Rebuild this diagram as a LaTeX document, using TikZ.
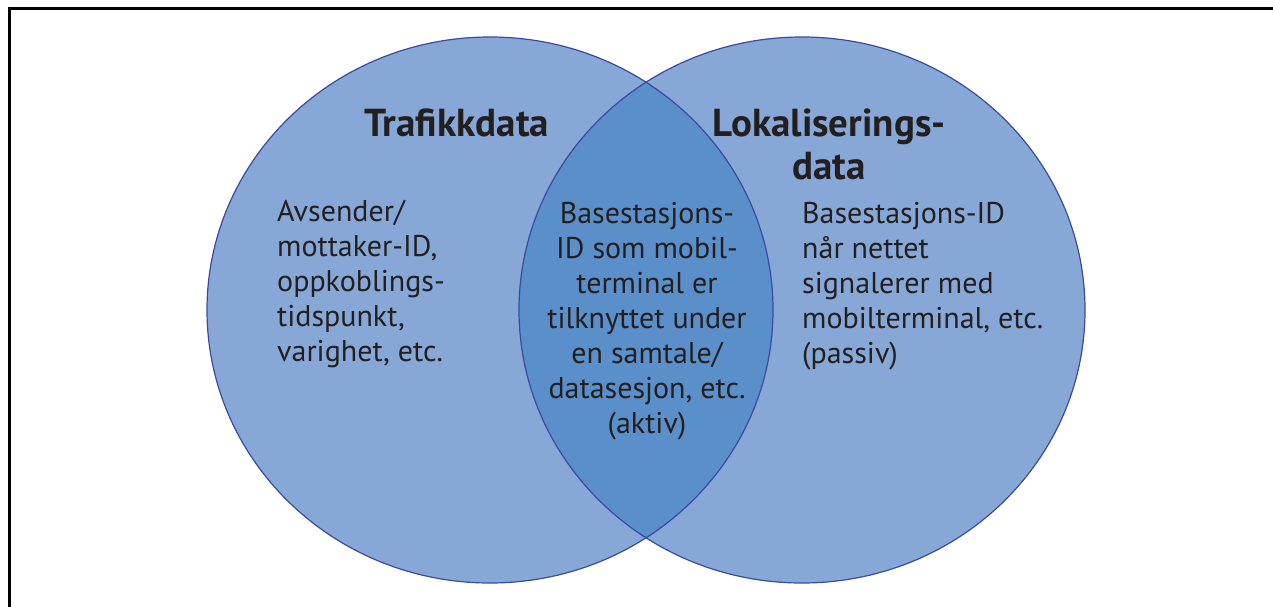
\documentclass[tikz,border=0pt]{standalone}
\usepackage{fontspec}
\setmainfont{PT Sans}
\definecolor{circfill}{RGB}{135,168,214}
\definecolor{interfill}{RGB}{91,143,201}
\definecolor{circline}{RGB}{58,74,160}
\definecolor{txt}{RGB}{35,31,32}
\begin{document}
\begin{tikzpicture}[x=1pt,y=-1pt,
  body/.style={inner sep=0pt, text=txt, font=\fontsize{30}{35}\selectfont},
  title/.style={inner sep=0pt, text=txt, font=\bfseries\fontsize{39}{43}\selectfont}]
\useasboundingbox (0,0) rectangle (1273,607);
\fill[white] (0,0) rectangle (1273,607);
\draw[line width=3pt] (9,607) -- (9,9) -- (1273,9);
\coordinate (cl) at (490,310);
\coordinate (cr) at (802,310);
\fill[circfill] (cl) ellipse [x radius=283pt, y radius=273pt];
\fill[circfill] (cr) ellipse [x radius=283pt, y radius=273pt];
\begin{scope}
\clip (cl) ellipse [x radius=283pt, y radius=273pt];
\fill[interfill] (cr) ellipse [x radius=283pt, y radius=273pt];
\end{scope}
\draw[circline, line width=1.2pt] (cl) ellipse [x radius=283pt, y radius=273pt];
\draw[circline, line width=1.2pt] (cr) ellipse [x radius=283pt, y radius=273pt];
\node[title, anchor=base] (t1) at (457,136) {Trafikkdata};
\node[title, anchor=base] (t2) at (829,136) {Lokaliserings-};
\node[title, anchor=base] (t3) at (829,179) {data};
\node[body, anchor=north west, align=left] (a) at (277,200) {Avsender/\\mottaker-ID,\\oppkoblings-\\tidspunkt,\\varighet, etc.};
\node[body, anchor=north, align=center] (b) at (647,202) {Basestasjons-\\ID som mobil-\\terminal er\\tilknyttet under\\en samtale/\\datasesjon, etc.\\(aktiv)};
\node[body, anchor=north west, align=left] (c) at (802,202) {Basestasjons-ID\\når nettet\\signalerer med\\mobilterminal, etc.\\(passiv)};
\end{tikzpicture}
\end{document}
